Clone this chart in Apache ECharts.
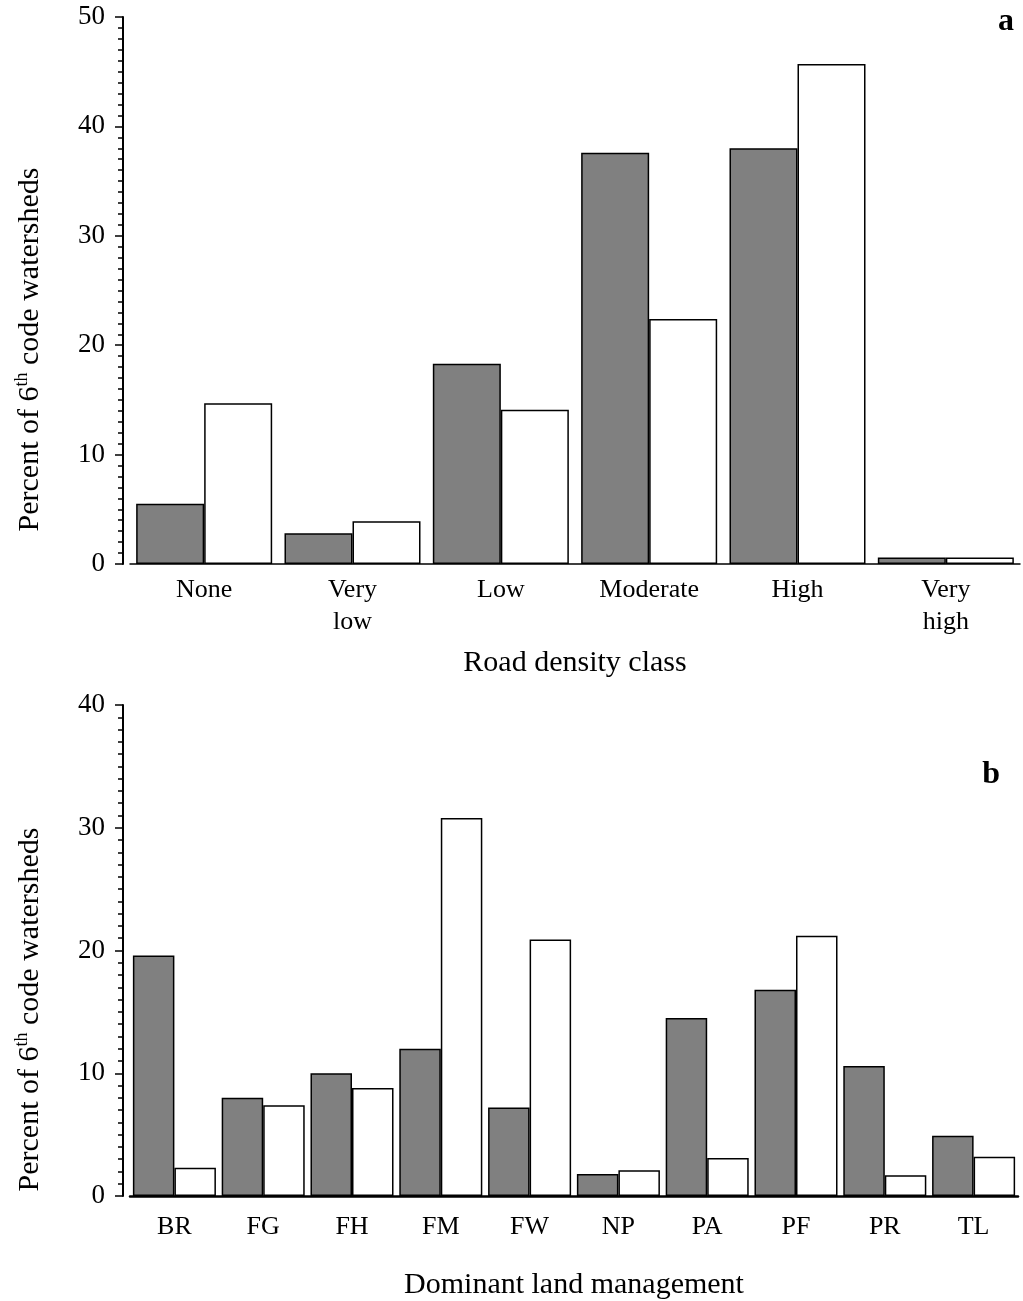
<!DOCTYPE html>
<html><head><meta charset="utf-8">
<script src="https://cdn.jsdelivr.net/npm/echarts@6/dist/echarts.min.js"></script>
<style>html,body{margin:0;padding:0;background:#fff}#c{width:1023px;height:1301px}</style>
</head><body><div id="c"></div>
<script>
var roadCats = ['None', 'Very\nlow', 'Low', 'Moderate', 'High', 'Very\nhigh'];
var roadDark = [5.5, 2.8, 18.3, 37.6, 38.0, 0.6];
var roadLight = [14.7, 3.9, 14.1, 22.4, 45.7, 0.6];
var landCats = ['BR', 'FG', 'FH', 'FM', 'FW', 'NP', 'PA', 'PF', 'PR', 'TL'];
var landDark = [19.6, 8.0, 10.0, 12.0, 7.2, 1.8, 14.5, 16.8, 10.6, 4.9];
var landLight = [2.3, 7.4, 8.8, 30.8, 20.9, 2.1, 3.1, 21.2, 1.7, 3.2];
var yTicksTop = [0, 10, 20, 30, 40, 50];
var yTicksBottom = [0, 10, 20, 30, 40];

var FONT = 'Liberation Serif';
var chart = echarts.init(document.getElementById('c'), null, {renderer: 'canvas'});

function yAxis(gi, ticks) {
  return {
    type: 'value', gridIndex: gi, min: ticks[0], max: ticks[ticks.length - 1], interval: 10,
    offset: 7,
    axisLine: {show: true, lineStyle: {color: '#000', width: 2}},
    axisTick: {show: true, inside: false, length: 8, lineStyle: {color: '#000', width: 1.5}},
    minorTick: {show: true, splitNumber: 10, length: 5, lineStyle: {color: '#000', width: 1.5}},
    splitLine: {show: false},
    axisLabel: {color: '#000', fontFamily: FONT, fontSize: 27, margin: 18},
    name: '{n|Percent of 6}{s|th}{n| code watersheds}',
    nameLocation: 'middle', nameGap: 76, nameRotate: 90,
    nameTextStyle: {
      padding: [0, 118, 0, 0],
      rich: {
        n: {fontFamily: FONT, fontSize: 30, color: '#000', lineHeight: 34},
        s: {fontFamily: FONT, fontSize: 18, color: '#000', lineHeight: 34, verticalAlign: 'top', padding: [0, 0, 12, 0]}
      }
    }
  };
}
function xAxis(gi, cats, name, gap, lw, margin) {
  return {
    type: 'category', gridIndex: gi, data: cats,
    axisLine: {show: true, lineStyle: {color: '#000', width: lw}},
    axisTick: {show: false},
    axisLabel: {color: '#000', fontFamily: FONT, fontSize: 26, margin: margin, lineHeight: 32, interval: 0},
    name: name, nameLocation: 'middle', nameGap: gap,
    nameTextStyle: {color: '#000', fontFamily: FONT, fontSize: 30}
  };
}
var darkStyle = {color: '#808080', borderColor: '#000', borderWidth: 1.5};
var lightStyle = {color: '#ffffff', borderColor: '#000', borderWidth: 1.5};

chart.setOption({
  animation: false,
  backgroundColor: '#fff',
  title: [
    {text: 'a', right: 4, top: 1, textStyle: {fontFamily: FONT, fontWeight: 'bold', fontSize: 32, color: '#000'}},
    {text: 'b', right: 18, top: 754, textStyle: {fontFamily: FONT, fontWeight: 'bold', fontSize: 32, color: '#000'}}
  ],
  grid: [
    {left: 130, right: 3, top: 17, height: 547},
    {left: 130, right: 5, top: 705, height: 494}
  ],
  xAxis: [
    xAxis(0, roadCats, 'Road density class', 84, 1.5, 10),
    xAxis(1, landCats, 'Dominant land management', 74, 2.5, 15)
  ],
  yAxis: [yAxis(0, yTicksTop), yAxis(1, yTicksBottom)],
  series: [
    {type: 'bar', xAxisIndex: 0, yAxisIndex: 0, data: roadDark, itemStyle: darkStyle, barGap: '0%', barCategoryGap: '8.3%'},
    {type: 'bar', xAxisIndex: 0, yAxisIndex: 0, data: roadLight, itemStyle: lightStyle, barGap: '0%', barCategoryGap: '8.3%'},
    {type: 'bar', xAxisIndex: 1, yAxisIndex: 1, data: landDark, itemStyle: darkStyle, barGap: '0%', barCategoryGap: '6.5%'},
    {type: 'bar', xAxisIndex: 1, yAxisIndex: 1, data: landLight, itemStyle: lightStyle, barGap: '0%', barCategoryGap: '6.5%'}
  ]
});
</script></body></html>
